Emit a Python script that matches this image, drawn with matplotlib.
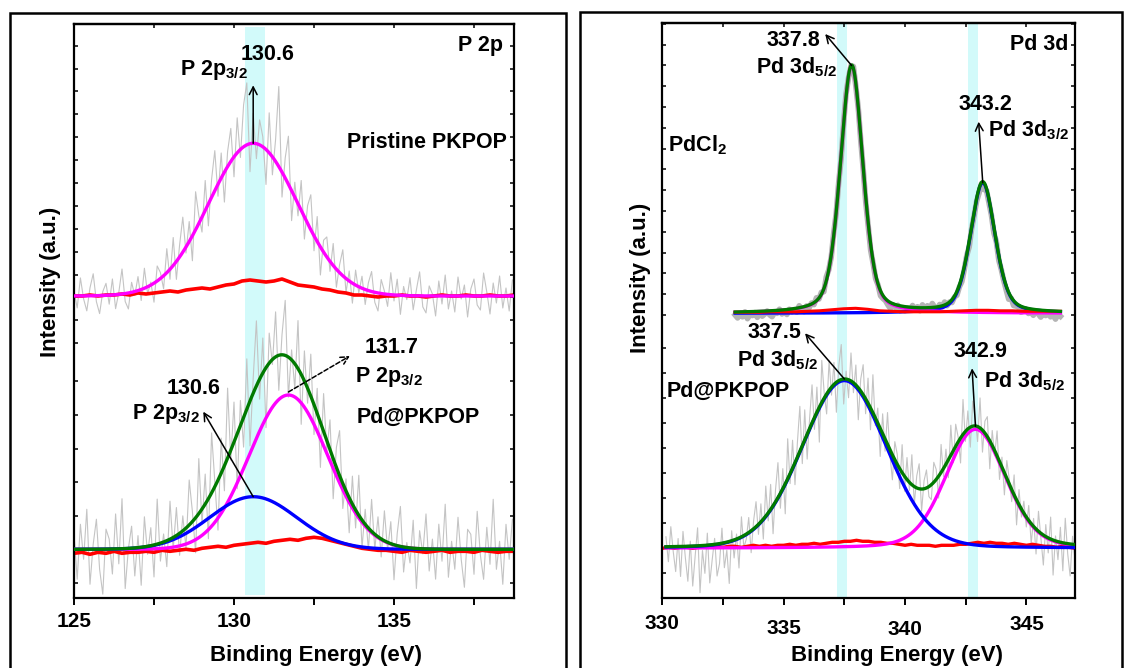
import numpy as np
import matplotlib
matplotlib.use("Agg")
import matplotlib.pyplot as plt
from matplotlib.patches import Rectangle
from matplotlib.ticker import FixedLocator

plt.rcParams['font.family'] = ['Liberation Sans', 'DejaVu Sans']
plt.rcParams['font.weight'] = 'bold'
plt.rcParams['mathtext.fontset'] = 'custom'
plt.rcParams['mathtext.rm'] = 'Liberation Sans:bold'
plt.rcParams['mathtext.it'] = 'Liberation Sans:bold'
plt.rcParams['mathtext.bf'] = 'Liberation Sans:bold'

# ---------------- P 2p region ----------------
p2p_scan = (125.0, 138.7)          # eV, raw scan window
p2p_bg_scan = (125.0, 138.75)      # eV, background window
p2p_offsets = {"pristine": 253.3, "pd": 0.0}
# fitted components: (centre eV, height a.u., FWHM eV, Lorentz fraction)
p2p_pristine_peaks = [(130.6, 152.7, 3.28, 0.0)]
p2p_pd_peaks = [(130.6, 52.6, 3.2, 0.0), (131.7, 154.3, 2.9, 0.0)]
p2p_pristine_resid = [5, -12, 18, -3, -15, 8, 22, -6, -18, 4, 12, -9, 16, -14, 2, 25, -8, -16, 10, -4,
                      14, -11, 20, -7, 3, -19, 15, 6, -13, 24,
                      -10, 28, -18, 12, 35, -6, 20, -25, 38, 8, -15, 30, -22, 18, 40, -12, 25, -30, 15, 33,
                      -20, 35, -8, 42, 62, -28, 30, -15, 25, 10, -35, 40, -18, 22, 80, -25, 20, 48, -30, 15,
                      -12, 30, -22, 18, 35, -15, 25, -28, 12, 20, -10, 22, -18, 8, 26, -14, 10, -20, 15, -6,
                      12, -15, 8, 20, -10, -18, 14, 3, -12, 22, -6, 16, -19, 9, -4, 18, -14, 6, 24, -11,
                      -17, 10, 2, -20, 15, -8, 21, -13, 5, -16, 19, -3, 11, -21, 7, 17, -9, -14, 23, 4,
                      -18, 13, -7, 20, -12, 8, -15, 16]
p2p_pd_resid = [15, -30, 25, -10, 40, -35, 5, 30, -20, -45, 20, 10, -25, 35, -15, 50, -40, 0, 22, -28,
                12, -38, 30, -8, 18, -32, 45, -18, 8, -26, 38, -12, 28, -22, 15,
                -20, 45, 10, -35, 55, -15, 30, -40, 60, 5, -50, 35, -25, 70, -10, 40, -55, 25, -30, 50,
                -45, 15, 65, -20, 35, -60, 30, -5, 45, -35, 20, 55, -40, 10, -25, 48, -50, 30, -15, 42,
                -30, 25, -45, 38, -10, 30, -40, 20, 45, -25, 12, -35, 28, -18, 40, -28, 15, -22, 32, -15, 20,
                -18, 30, -8, 22, -35, 12, 40, -25, 5, -15, 28, -40, 18, -5, 35, -22, 10, -30, 25, -12,
                45, -28, 8, -20, 32, -10, -38, 20, 15, -25, 38, -6, -30, 22, -15, 50, -20, 8, -35, 25,
                -10, 30]
p2p_pristine_bg = [0, 0, 1, 0, 1, 1, 2, 1, 3, 2, 3, 4, 5, 4, 6, 7, 8, 7, 9, 11,
                   12, 15, 16, 15, 14, 15, 17, 14, 11, 10, 9, 7, 6, 4, 3, 1, 1, 0, -1, 0,
                   0, 1, 0, 0, -1, 0, 1, 0, 0, 1, 0, 0, 1, 0, 0, 1]
p2p_pd_bg = [-4, -3, -5, -3, -4, -2, -4, -3, -3, -2, -3, -1, -2, -1, 0, -1, 1, 2, 3, 2,
             4, 5, 6, 7, 6, 8, 9, 10, 9, 11, 12, 11, 9, 7, 5, 3, 1, 0, -1, -1,
             -2, -3, -1, -2, -3, -2, -1, -3, -2, -2, -3, -1, -2, -3, -2, -2]
p2p_bands = [(130.35, 130.97)]

# ---------------- Pd 3d region ----------------
pdcl2_scan = (333.0, 346.4)
pkpop_scan = (330.15, 347.0)
pkpop_bg_scan = (330.0, 347.0)
pd3d_offsets = {"pdcl2": 235.0, "pd": 0.0}
pdcl2_peaks = [(337.8, 247.7, 1.1, 0.35), (343.2, 130.7, 1.2, 0.35)]
pkpop_peaks = [(337.5, 167.7, 4.1, 0.1), (342.9, 119.0, 2.9, 0.2)]
pdcl2_resid = [-3, -6, -2, -5, 0, -7, -3, -4, -1, -6, -2, -5, -3, 0, -4, -6, -2, -3, 1, -4,
               -2, -5, 0, -3, -1, -4, 2, -2, -5, 0, -3, 1, -2, 3, -1, 2, -3, 4, 0, -2,
               3, -1, 2, -4, 1, 3, -2, 0, 2, -3, -1, -4, -2, -5, -3, -6, -2, -4, -1, -5,
               -3, -2, -4, -6, -1, -3, 0, -5, -2, -4, -1, -3, 2, -2, 1, -3, 3, -1, 2, -2,
               4, 0, -3, 2, -1, 3, -2, 0, -3, -1, -4, -2, -5, -3, -1, -6, -2, -4, -3, -5,
               -1, -7, -2, -4, -3, -6, 0, -5, -2, -3, -4, -7, -1, -5, -3, -2, -6, -4, -1, -5,
               -3, -6, -2, -4, -7, -3, -5, -2, -6, -4, -8, -3, -5]
pkpop_resid = [10, -15, 20, -5, -25, 8, -30, 15, -12, -35, 5, -40, -10, 18, -47, -5, -28, 12, -38, -15,
               6, -32, -20, 15, -25, -8, -42, 10, -18, 5, -30, 20, -12, -5, 15, -22, 8, 25, -10,
               18, -20, 30, -8, 25, -28, 12, 35, -15, 20, -30, 40, -10, 28, -22, 15, 45, -18, 30, -25,
               10, 38, -12, 25, -35, 42, 5, -20, 30, -8, 22, -30, 15, 35, -25, 8, -18, 28, -10, 20,
               -32, 12, 30, -15, 25, -22, 38, -8, 15, -28, 20, -12, 32, -5, -25, 18, 10, -20, 28, -15,
               22, -8, 30, -18, 12, 25, -22, 8, 18, -10,
               -15, 20, 10, -22, 28, -8, 15, -18, 30, -12, 22, 5, -25, 35, -10, 18, -20, 25, 8, -15,
               30, -22, 12, 20, -28, 15, -5, 25, -18, 10, -22, 18, 5, -12, 20, -25, 15, -8, 12,
               -10, 15, -20, 8, -25, 20, -5, -30, 12, -15, 22, -35, 5, -18, 15, -28, 25, -10, -32, 8, -15]
pdcl2_bg = [1, 1, 1, 1.5, 1.5, 1.5, 2, 2.5, 3.5, 4.5, 5, 4, 2.5, 2, 1.5, 1.5, 1.5, 1.5, 2, 2.5,
            3, 3, 2.5, 2.5, 2, 2, 2, 2]
pkpop_bg = [0, 1, 0, 1, 1, 0, 1, 2, 1, 2, 1, 2, 2, 1, 2, 3, 2, 3, 2, 3,
            3, 4, 3, 4, 4, 5, 4, 5, 6, 6, 7, 7, 8, 7, 7, 6, 6, 5, 5, 4,
            3, 4, 3, 3, 3, 2, 3, 3, 3, 4, 4, 5, 6, 5, 6, 5, 5, 4, 5, 4,
            3, 4, 3, 2, 2, 1, 2, 1, 0]
pd3d_bands = [(337.2, 337.6), (342.6, 343.0)]

C_RAW = '#c4c4c4'
C_BG = '#ff0000'
C_MAG = '#ff00ff'
C_BLUE = '#0000ff'
C_SUM = '#007a00'
C_BAND = '#d2fafa'


def pseudo_voigt(x, centre, height, fwhm, eta):
    r = ((x - centre) / (fwhm / 2.0)) ** 2
    return height * ((1 - eta) * np.exp(-np.log(2) * r) + eta / (1 + r))


def model(x, peaks):
    return sum(pseudo_voigt(x, *p) for p in peaks)


fig = plt.figure(figsize=(11.27, 6.68), dpi=100)
W, H = 1127, 668


def px_axes(x0, y0, x1, y1):
    return fig.add_axes([x0 / W, 1 - y1 / H, (x1 - x0) / W, (y1 - y0) / H])


# outer panel frames
for fx0, fx1, fy0 in [(9.6, 566.5, 12.5), (580, 1121.5, 11.6)]:
    fig.add_artist(Rectangle((fx0 / W, -0.05), (fx1 - fx0) / W, 1 - fy0 / H + 0.05,
                             transform=fig.transFigure, fill=False, lw=1.8, ec='k'))

ax1 = px_axes(74, 24, 514, 598)
ax2 = px_axes(662.3, 22.7, 1075, 598.3)

arrow_kw = dict(arrowstyle='->,head_length=0.55,head_width=0.28', lw=1.1, color='k',
                shrinkA=0, shrinkB=0)
TXT = dict(fontsize=15.5, fontweight='bold')

# ---------------- left panel ----------------
ax = ax1
for lo, hi in p2p_bands:
    ax.axvspan(lo, hi, ymin=0.005, ymax=0.995, color=C_BAND, lw=0, zorder=0)

xs = np.linspace(p2p_scan[0], p2p_scan[1], len(p2p_pristine_resid))
ax.plot(xs, p2p_offsets["pristine"] + model(xs, p2p_pristine_peaks) + np.array(p2p_pristine_resid),
        color=C_RAW, lw=0.8, zorder=1)
xs = np.linspace(p2p_scan[0], p2p_scan[1], len(p2p_pd_resid))
ax.plot(xs, p2p_offsets["pd"] + model(xs, p2p_pd_peaks) + np.array(p2p_pd_resid),
        color=C_RAW, lw=0.8, zorder=1)

xb = np.linspace(p2p_bg_scan[0], p2p_bg_scan[1], len(p2p_pristine_bg))
ax.plot(xb, p2p_offsets["pristine"] + np.array(p2p_pristine_bg), color=C_BG, lw=2.6, zorder=2)
xb = np.linspace(p2p_bg_scan[0], p2p_bg_scan[1], len(p2p_pd_bg))
ax.plot(xb, p2p_offsets["pd"] + np.array(p2p_pd_bg), color=C_BG, lw=2.6, zorder=2)

xf = np.linspace(p2p_bg_scan[0], p2p_bg_scan[1], 800)
ax.plot(xf, p2p_offsets["pristine"] + model(xf, p2p_pristine_peaks), color=C_MAG, lw=2.4, zorder=3)
ax.plot(xf, p2p_offsets["pd"] + model(xf, [p2p_pd_peaks[1]]), color=C_MAG, lw=2.4, zorder=3)
ax.plot(xf, p2p_offsets["pd"] + model(xf, [p2p_pd_peaks[0]]), color=C_BLUE, lw=2.4, zorder=4)
ax.plot(xf, p2p_offsets["pd"] + model(xf, p2p_pd_peaks), color=C_SUM, lw=2.4, zorder=5)

ax.set_xlim(125, 138.75)
ax.set_ylim(-48.7, 525.3)

# peak labels
c, h = p2p_pristine_peaks[0][:2]
top = p2p_offsets["pristine"] + h
ax.annotate('', xy=(c, top + 58), xytext=(c, top), arrowprops=arrow_kw, zorder=6)
ax.text(131.06, 489.3, f'{c:.1f}', ha='center', va='baseline', **TXT)
ax.text(130.44, 474.3, r'P 2p$_{3/2}$', ha='right', va='baseline', **TXT)
ax.text(138.4, 498.0, 'P 2p', ha='right', va='baseline', **TXT)
ax.text(138.53, 401.0, 'Pristine PKPOP', ha='right', va='baseline', **TXT)

c, h = p2p_pd_peaks[0][:2]
ax.annotate('', xy=(129.04, 137.6), xytext=(c, p2p_offsets["pd"] + h), arrowprops=arrow_kw, zorder=6)
ax.text(128.73, 155.3, f'{c:.1f}', ha='center', va='baseline', **TXT)
ax.text(128.94, 130.0, r'P 2p$_{3/2}$', ha='right', va='baseline', **TXT)

c, h = p2p_pd_peaks[1][:2]
ax.annotate('', xy=(133.62, 193.3), xytext=(c, p2p_offsets["pd"] + h + 3),
            arrowprops=dict(arrow_kw, linestyle=(0, (3, 1.5))), zorder=6)
ax.text(134.93, 196.0, f'{c:.1f}', ha='center', va='baseline', **TXT)
ax.text(133.78, 167.6, r'P 2p$_{3/2}$', ha='left', va='baseline', **TXT)
ax.text(133.83, 126.6, 'Pd@PKPOP', ha='left', va='baseline', **TXT)

ax.set_xticks([125, 130, 135])
ax.set_xticks([127.5, 132.5, 137.5], minor=True)
low = -33.7 + 33.6 * np.arange(7)
up = 206.0 + 22.9 * np.arange(14)
ax.yaxis.set_major_locator(FixedLocator(np.concatenate([low, up])))
ax.set_yticklabels([])

# ---------------- right panel ----------------
ax = ax2
for lo, hi in pd3d_bands:
    ax.axvspan(lo, hi, color=C_BAND, lw=0, zorder=0)

xs = np.linspace(pdcl2_scan[0], pdcl2_scan[1], len(pdcl2_resid))
ax.plot(xs, pd3d_offsets["pdcl2"] + model(xs, pdcl2_peaks) + np.array(pdcl2_resid),
        color='#b4b4b4', lw=4.0, zorder=1)
xs = np.linspace(pkpop_scan[0], pkpop_scan[1], len(pkpop_resid))
ax.plot(xs, pd3d_offsets["pd"] + model(xs, pkpop_peaks) + np.array(pkpop_resid),
        color=C_RAW, lw=0.8, zorder=1)

xf = np.linspace(pdcl2_scan[0], pdcl2_scan[1], 800)
ax.plot(xf, pd3d_offsets["pdcl2"] + model(xf, [pdcl2_peaks[1]]), color=C_BLUE, lw=2.4, zorder=2)
ax.plot(xf, pd3d_offsets["pdcl2"] + model(xf, [pdcl2_peaks[0]]), color=C_MAG, lw=2.4, zorder=2)
xb = np.linspace(pdcl2_scan[0], pdcl2_scan[1], len(pdcl2_bg))
ax.plot(xb, pd3d_offsets["pdcl2"] + np.array(pdcl2_bg), color=C_BG, lw=2.2, zorder=3)
ax.plot(xf, pd3d_offsets["pdcl2"] + model(xf, pdcl2_peaks), color=C_SUM, lw=2.4, zorder=5)

xf = np.linspace(pkpop_scan[0], pkpop_scan[1], 800)
xb = np.linspace(pkpop_bg_scan[0], pkpop_bg_scan[1], len(pkpop_bg))
ax.plot(xb, pd3d_offsets["pd"] + np.array(pkpop_bg), color=C_BG, lw=2.4, zorder=2)
ax.plot(xf, pd3d_offsets["pd"] + model(xf, [pkpop_peaks[1]]), color=C_MAG, lw=2.4, zorder=3)
ax.plot(xf, pd3d_offsets["pd"] + model(xf, [pkpop_peaks[0]]), color=C_BLUE, lw=2.4, zorder=4)
ax.plot(xf, pd3d_offsets["pd"] + model(xf, pkpop_peaks), color=C_SUM, lw=2.4, zorder=5)

ax.set_xlim(330, 347)
ax.set_ylim(-50, 525.6)

c, h = pdcl2_peaks[0][:2]
ax.annotate('', xy=(336.71, 514.3), xytext=(c, pd3d_offsets["pdcl2"] + h), arrowprops=arrow_kw, zorder=6)
ax.text(336.5, 502.6, f'{c:.1f}', ha='right', va='baseline', **TXT)
ax.text(337.19, 475.0, r'Pd 3d$_{5/2}$', ha='right', va='baseline', **TXT)
c, h = pdcl2_peaks[1][:2]
ax.annotate('', xy=(343.03, 426.6), xytext=(c, pd3d_offsets["pdcl2"] + h), arrowprops=arrow_kw, zorder=6)
ax.text(343.33, 438.3, f'{c:.1f}', ha='center', va='baseline', **TXT)
ax.text(343.43, 411.6, r'Pd 3d$_{3/2}$', ha='left', va='baseline', **TXT)
ax.text(346.73, 498.3, 'Pd 3d', ha='right', va='baseline', **TXT)
ax.text(330.22, 396.6, r'PdCl$_2$', ha='left', va='baseline', **TXT)

c, h = pkpop_peaks[0][:2]
ax.annotate('', xy=(335.88, 215.0), xytext=(c, pd3d_offsets["pd"] + h + 1.6), arrowprops=arrow_kw, zorder=6)
ax.text(335.75, 210.0, f'{c:.1f}', ha='right', va='baseline', **TXT)
ax.text(336.41, 181.6, r'Pd 3d$_{5/2}$', ha='right', va='baseline', **TXT)
ax.text(330.18, 151.6, 'Pd@PKPOP', ha='left', va='baseline', **TXT)
c, h = pkpop_peaks[1][:2]
ax.annotate('', xy=(342.76, 180.0), xytext=(c, pd3d_offsets["pd"] + h + 3), arrowprops=arrow_kw, zorder=6)
ax.text(343.1, 191.0, f'{c:.1f}', ha='center', va='baseline', **TXT)
ax.text(343.27, 161.0, r'Pd 3d$_{5/2}$', ha='left', va='baseline', **TXT)

ax.set_xticks([330, 335, 340, 345])
ax.set_xticks([332.5, 337.5, 342.5], minor=True)
low = -25.0 + 25.0 * np.arange(10)
up = 233.3 + 20.8 * np.arange(15)
ax.yaxis.set_major_locator(FixedLocator(np.concatenate([low, up])))
ax.set_yticklabels([])

# ---------------- shared styling ----------------
label_pos = {ax1: ((0.55, -0.101), (-0.0545, 0.5505)),
             ax2: ((0.5687, -0.1002), (-0.054, 0.5565))}
for ax in (ax1, ax2):
    for s in ax.spines.values():
        s.set_linewidth(1.6)
    ax.tick_params(axis='x', which='both', direction='out', length=5, width=1.4,
                   labelsize=15, pad=5, top=False)
    ax.tick_params(axis='y', which='both', direction='in', length=3, width=1.1,
                   left=True, right=True)
    for t in ax.get_xticklabels():
        t.set_fontweight('bold')
    sec = ax.secondary_xaxis('top')
    sec.set_xticks(list(ax.get_xticks()) + list(ax.get_xticks(minor=True)))
    sec.tick_params(direction='in', length=3, width=1.1, labeltop=False)
    sec.spines['top'].set_linewidth(1.6)
    ax.set_xlabel('Binding Energy (eV)', fontsize=16, fontweight='bold')
    ax.set_ylabel('Intensity (a.u.)', fontsize=16, fontweight='bold')
    (xl, yl) = label_pos[ax]
    ax.xaxis.set_label_coords(*xl)
    ax.xaxis.label.set_va('center')
    ax.yaxis.set_label_coords(*yl)
    ax.yaxis.label.set_va('center')

# the Pd 3d energy labels sit at slightly different heights
for tick, extra in zip(ax2.xaxis.get_major_ticks(), [1.5, 6.5, 8.0, 3.0]):
    tick.set_pad(5 + extra * 0.72)

fig.savefig('out.png', dpi=100)
